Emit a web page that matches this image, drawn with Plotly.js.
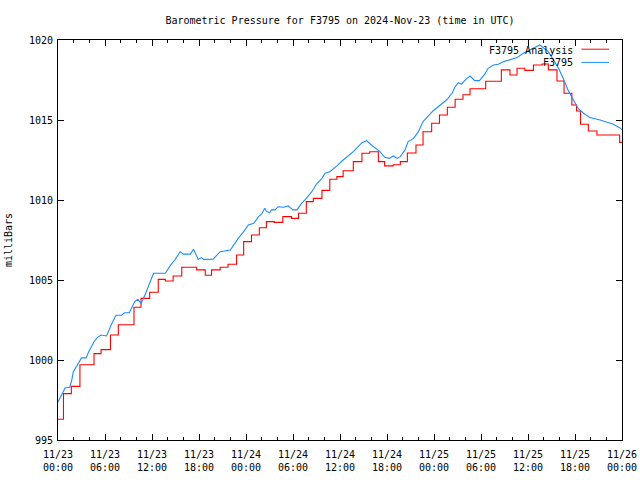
<!DOCTYPE html>
<html>
<head>
<meta charset="utf-8">
<script src="https://cdn.plot.ly/plotly-3.0.1.min.js"></script>
<style>html,body{margin:0;padding:0;background:#fff;}#chart{width:640px;height:480px;}</style>
</head>
<body>
<div id="chart"></div>
<script>
// Hours since 2024-11-23 00:00 UTC
var analysisHours = [0,0.7,1.7,2.8,4.6,5.5,6.7,7.7,9.7,10.6,11.7,12.8,13.7,14.7,15.8,17.7,18.8,19.6,20.7,21.7,22.8,23.7,24.7,25.7,26.6,27.6,28.7,29.8,30.7,31.7,32.6,33.7,34.7,35.6,36.4,37.7,38.8,39.8,40.9,41.7,42.8,43.7,44.6,45.7,46.6,47.7,48.7,49.7,50.7,51.7,52.6,54.6,56.6,57.7,58.6,59.6,60.7,61.8,62.6,63.7,64.6,65.6,66.2,66.7,67.7,68.8,71.7,72];
var analysisMb = [996.3,997.9,998.35,999.7,1000.4,1000.65,1001.56,1002.2,1003.3,1003.85,1004.23,1005.04,1004.94,1005.25,1005.8,1005.63,1005.3,1005.63,1005.8,1005.98,1006.56,1007.4,1007.81,1008.27,1008.65,1008.6,1008.96,1008.85,1009.17,1009.9,1010.1,1010.6,1011.3,1011.46,1011.83,1012.4,1012.92,1013.02,1012.4,1012.13,1012.2,1012.4,1012.94,1013.44,1014.27,1014.8,1015.31,1015.8,1016.3,1016.58,1016.95,1017.42,1018.13,1017.81,1018.23,1018.1,1018.44,1018.5,1018.13,1017.44,1016.67,1015.94,1015.56,1014.73,1014.31,1014.06,1013.6,1013.6];

var stationHours = [0,0.5,0.9,1.5,1.75,1.95,2.4,2.8,3.0,3.6,3.9,4.6,5.0,5.5,6.2,6.8,7.4,8.1,8.5,9.1,9.8,10.2,10.6,11.1,11.5,11.9,12.2,13.7,14.3,14.9,15.6,16.0,16.9,17.3,17.9,18.3,18.6,19.8,20.7,22.0,22.4,23.0,23.7,24.3,25.0,25.6,26.0,26.4,26.6,27.0,27.3,27.7,28.1,28.8,29.4,30.0,30.5,31.1,31.7,32.4,33.0,33.7,34.1,34.7,35.6,36.4,37.7,38.8,39.4,40.0,41.1,41.7,42.3,42.8,43.3,43.7,44.3,44.7,45.4,46.0,46.6,47.5,47.9,48.8,49.6,50.3,50.7,51.1,51.5,52.2,52.6,53.2,53.8,54.5,54.9,55.6,56.2,56.9,57.7,58.6,59.4,60.3,60.9,61.5,62.6,63.2,63.9,64.5,65.1,65.8,66.4,67.1,67.9,69.2,70.0,70.9,71.7,72];
var stationMb = [997.37,997.9,998.25,998.3,998.73,999.25,999.63,999.88,1000.13,1000.13,1000.5,1001.14,1001.4,1001.56,1001.5,1002.2,1002.8,1002.8,1002.95,1002.95,1003.65,1003.79,1003.54,1004.06,1004.58,1005.1,1005.42,1005.42,1005.88,1006.25,1006.77,1006.62,1006.62,1006.92,1006.29,1006.4,1006.29,1006.3,1006.77,1006.87,1007.19,1007.6,1008.02,1008.44,1008.54,1008.96,1009.13,1009.48,1009.3,1009.2,1009.4,1009.38,1009.58,1009.55,1009.63,1009.38,1009.38,1009.79,1010.1,1010.52,1011.0,1011.35,1011.67,1011.77,1012.13,1012.5,1013.02,1013.58,1013.71,1013.44,1013.02,1012.67,1012.6,1012.75,1012.6,1012.71,1013.13,1013.65,1013.85,1014.27,1014.9,1015.42,1015.58,1015.94,1016.25,1016.67,1017.08,1017.33,1017.25,1017.6,1017.75,1017.46,1017.46,1017.88,1018.23,1018.44,1018.48,1018.65,1018.75,1018.9,1019.17,1019.38,1019.52,1019.69,1019.27,1018.75,1018.23,1017.6,1016.88,1016.25,1015.73,1015.42,1015.15,1015.0,1014.85,1014.73,1014.52,1014.4];

var xTickVals = [0,6,12,18,24,30,36,42,48,54,60,66,72];
var xTickText = ["11/23<br>00:00","11/23<br>06:00","11/23<br>12:00","11/23<br>18:00","11/24<br>00:00","11/24<br>06:00","11/24<br>12:00","11/24<br>18:00","11/25<br>00:00","11/25<br>06:00","11/25<br>12:00","11/25<br>18:00","11/26<br>00:00"];
var yTickVals = [995,1000,1005,1010,1015,1020];

var seriesNames = ["F3795 Analysis","F3795"];
var seriesColors = ["#ff0000","#1e8cff"];

var FONT = "DejaVu Sans Mono, Liberation Mono, monospace";

var traces = [
  {x: analysisHours, y: analysisMb, type: "scatter", mode: "lines", name: seriesNames[0],
   line: {color: seriesColors[0], width: 1.1, shape: "hv"}, showlegend: false},
  {x: stationHours, y: stationMb, type: "scatter", mode: "lines", name: seriesNames[1],
   line: {color: seriesColors[1], width: 1.1}, showlegend: false}
];

var layout = {
  width: 640, height: 480,
  margin: {l: 58, r: 18, t: 40, b: 40, pad: 0},
  paper_bgcolor: "#ffffff", plot_bgcolor: "#ffffff",
  font: {family: FONT, size: 10, color: "#000"},
  title: {text: "Barometric Pressure for F3795 on 2024-Nov-23 (time in UTC)",
          x: 0.5, xref: "paper", y: 20, yref: "container", yanchor: "middle",
          font: {family: FONT, size: 10, color: "#000"}},
  xaxis: {range: [0, 72], tickmode: "array", tickvals: xTickVals, ticktext: xTickText,
          ticks: "inside", ticklen: 6, tickwidth: 1, tickcolor: "#000",
          showline: true, linecolor: "#000", linewidth: 1, mirror: "allticks",
          showgrid: false, zeroline: false, ticklabelstandoff: 5,
          minor: {tickmode: "linear", tick0: 0, dtick: 2, ticks: "inside", ticklen: 3, tickcolor: "#000", showgrid: false},
          tickfont: {family: FONT, size: 10, color: "#000"}},
  yaxis: {range: [995, 1020], tickmode: "array", tickvals: yTickVals,
          ticks: "inside", ticklen: 6, tickwidth: 1, tickcolor: "#000",
          showline: true, linecolor: "#000", linewidth: 1, mirror: "allticks",
          showgrid: false, zeroline: false, ticklabelstandoff: 2,
          tickfont: {family: FONT, size: 10, color: "#000"},
          title: {text: "milliBars", standoff: 14, font: {family: FONT, size: 10, color: "#000"}}},
  annotations: [
    {text: seriesNames[0], xref: "paper", yref: "paper", x: 0.9167, y: 0.975, xanchor: "right", yanchor: "middle", showarrow: false, font: {family: FONT, size: 10, color: "#000"}},
    {text: seriesNames[1], xref: "paper", yref: "paper", x: 0.9167, y: 0.944, xanchor: "right", yanchor: "middle", showarrow: false, font: {family: FONT, size: 10, color: "#000"}}
  ],
  shapes: [
    {type: "line", xref: "paper", yref: "paper", x0: 0.928, x1: 0.977, y0: 0.977, y1: 0.977, line: {color: seriesColors[0], width: 1}},
    {type: "line", xref: "paper", yref: "paper", x0: 0.928, x1: 0.977, y0: 0.944, y1: 0.944, line: {color: seriesColors[1], width: 1}}
  ]
};

Plotly.newPlot("chart", traces, layout, {staticPlot: true, displayModeBar: false});
</script>
</body>
</html>
